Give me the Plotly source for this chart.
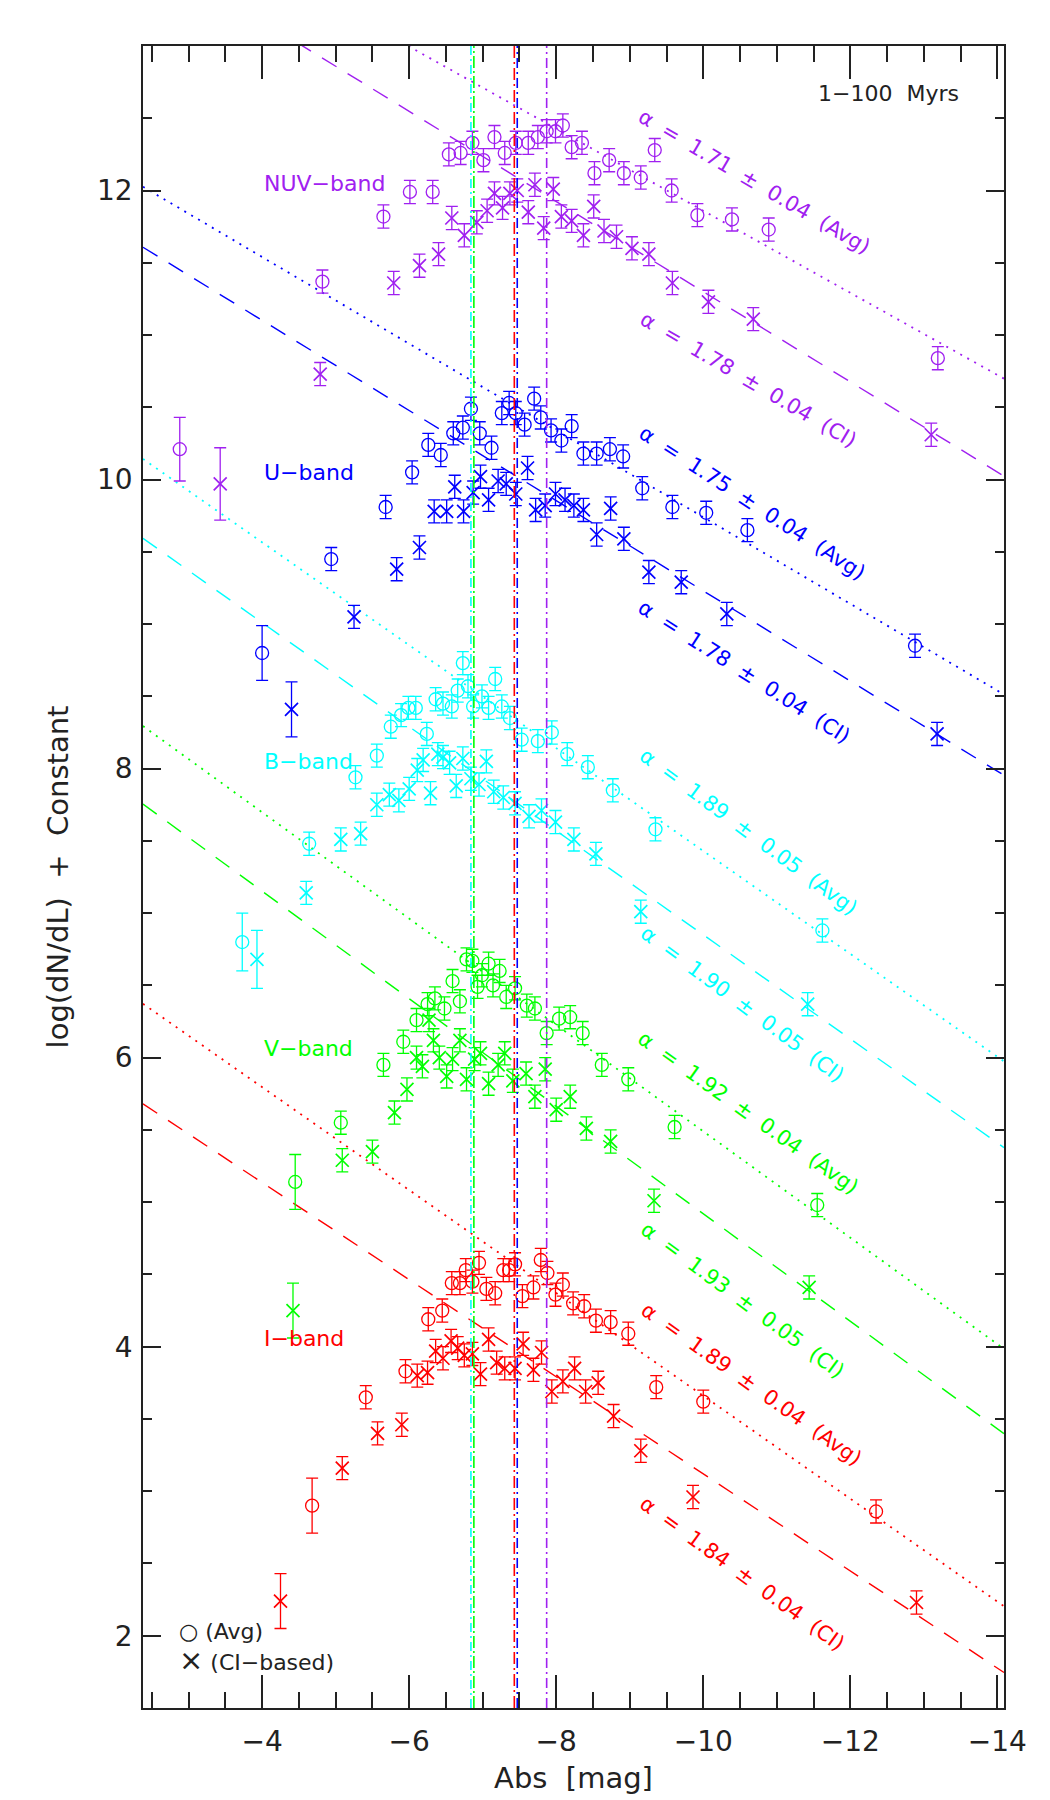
import plotly.graph_objects as go

# ---------------- data ----------------
BANDS = ["NUV", "U", "B", "V", "I"]
BAND_LABELS = ["NUV\u2212band", "U\u2212band", "B\u2212band", "V\u2212band", "I\u2212band"]

NUV_AVG_M = [-2.88, -4.82, -5.65, -6.01, -6.32, -6.54, -6.70, -6.86, -7.01, -7.16, -7.30, -7.45, -7.62, -7.75, -7.87,
             -7.99, -8.09, -8.21, -8.35, -8.52, -8.72, -8.92, -9.15, -9.34, -9.57, -9.92, -10.39, -10.89, -13.19]
NUV_AVG_Y = [10.21, 11.37, 11.82, 11.99, 11.99, 12.25, 12.26, 12.33, 12.21, 12.37, 12.26, 12.33, 12.33, 12.37, 12.41,
             12.41, 12.45, 12.30, 12.33, 12.12, 12.21, 12.12, 12.09, 12.28, 12.00, 11.83, 11.80, 11.73, 10.84]
NUV_AVG_E = [0.22, 0.08, 0.08, 0.08, 0.08, 0.08, 0.08, 0.08, 0.08, 0.08, 0.08, 0.08, 0.08, 0.08, 0.08,
             0.08, 0.08, 0.08, 0.08, 0.08, 0.08, 0.08, 0.08, 0.08, 0.08, 0.08, 0.08, 0.08, 0.08]
NUV_CI_M = [-3.43, -4.79, -5.79, -6.14, -6.40, -6.58, -6.75, -6.92, -7.06, -7.16, -7.27, -7.37, -7.47, -7.62, -7.71,
            -7.83, -7.96, -8.07, -8.21, -8.37, -8.51, -8.65, -8.82, -9.03, -9.26, -9.58, -10.07, -10.68, -13.10]
NUV_CI_Y = [9.97, 10.73, 11.36, 11.48, 11.56, 11.81, 11.69, 11.78, 11.86, 11.98, 11.88, 11.98, 12.00, 11.85, 12.04,
            11.74, 12.01, 11.82, 11.79, 11.69, 11.89, 11.72, 11.68, 11.60, 11.56, 11.36, 11.23, 11.11, 10.31]
NUV_CI_E = [0.25, 0.08, 0.08, 0.08, 0.08, 0.08, 0.08, 0.08, 0.08, 0.08, 0.08, 0.08, 0.08, 0.08, 0.08,
            0.08, 0.08, 0.08, 0.08, 0.08, 0.08, 0.08, 0.08, 0.08, 0.08, 0.08, 0.08, 0.08, 0.08]

U_AVG_M = [-4.00, -4.94, -5.68, -6.04, -6.26, -6.43, -6.60, -6.73, -6.84, -6.96, -7.12, -7.26, -7.36, -7.45, -7.57,
           -7.70, -7.79, -7.93, -8.07, -8.21, -8.37, -8.55, -8.73, -8.91, -9.17, -9.58, -10.04, -10.60, -12.88]
U_AVG_Y = [8.80, 9.45, 9.81, 10.05, 10.24, 10.17, 10.32, 10.36, 10.49, 10.32, 10.22, 10.46, 10.53, 10.46, 10.38,
           10.56, 10.43, 10.34, 10.27, 10.37, 10.18, 10.18, 10.21, 10.16, 9.94, 9.81, 9.77, 9.65, 8.85]
U_AVG_E = [0.19, 0.08, 0.08, 0.08, 0.08, 0.08, 0.08, 0.08, 0.08, 0.08, 0.08, 0.08, 0.08, 0.08, 0.08,
           0.08, 0.08, 0.08, 0.08, 0.08, 0.08, 0.08, 0.08, 0.08, 0.08, 0.08, 0.08, 0.08, 0.08]
U_CI_M = [-4.40, -5.25, -5.83, -6.14, -6.34, -6.51, -6.62, -6.74, -6.87, -6.97, -7.08, -7.21, -7.32, -7.45,
          -7.61, -7.72, -7.85, -7.99, -8.12, -8.24, -8.37, -8.55, -8.74, -8.92, -9.26, -9.70, -10.32, -13.18]
U_CI_Y = [8.41, 9.05, 9.38, 9.53, 9.78, 9.78, 9.95, 9.78, 9.91, 10.02, 9.86, 9.99, 9.97, 9.90,
          10.08, 9.79, 9.82, 9.90, 9.86, 9.82, 9.79, 9.62, 9.80, 9.59, 9.36, 9.29, 9.07, 8.24]
U_CI_E = [0.19, 0.08, 0.08, 0.08, 0.08, 0.08, 0.08, 0.08, 0.08, 0.08, 0.08, 0.08, 0.08, 0.08,
          0.08, 0.08, 0.08, 0.08, 0.08, 0.08, 0.08, 0.08, 0.08, 0.08, 0.08, 0.08, 0.08, 0.08]

B_AVG_M = [-3.73, -4.64, -5.27, -5.56, -5.75, -5.89, -5.99, -6.09, -6.24, -6.36, -6.46, -6.58, -6.66, -6.73, -6.80,
           -6.87, -6.99, -7.08, -7.17, -7.26, -7.37, -7.53, -7.75, -7.94, -8.15, -8.43, -8.77, -9.35, -11.62]
B_AVG_Y = [6.80, 7.48, 7.94, 8.09, 8.29, 8.37, 8.42, 8.42, 8.24, 8.48, 8.45, 8.43, 8.54, 8.73, 8.57,
           8.43, 8.50, 8.42, 8.62, 8.43, 8.35, 8.20, 8.19, 8.25, 8.10, 8.01, 7.85, 7.58, 6.88]
B_AVG_E = [0.20, 0.08, 0.08, 0.08, 0.08, 0.08, 0.08, 0.08, 0.08, 0.08, 0.08, 0.08, 0.08, 0.08, 0.08,
           0.08, 0.08, 0.08, 0.08, 0.08, 0.08, 0.08, 0.08, 0.08, 0.08, 0.08, 0.08, 0.08, 0.08]
B_CI_M = [-3.93, -4.60, -5.07, -5.34, -5.56, -5.73, -5.86, -6.00, -6.11, -6.19, -6.29, -6.39, -6.46, -6.55, -6.64,
          -6.73, -6.84, -6.95, -7.05, -7.15, -7.28, -7.44, -7.63, -7.80, -7.99, -8.24, -8.54, -9.15, -11.42]
B_CI_Y = [6.68, 7.14, 7.51, 7.55, 7.75, 7.82, 7.78, 7.86, 7.99, 8.06, 7.83, 8.10, 8.08, 8.04, 7.88,
          8.07, 7.93, 7.89, 8.05, 7.84, 7.80, 7.76, 7.67, 7.71, 7.63, 7.51, 7.41, 7.01, 6.37]
B_CI_E = [0.20, 0.08, 0.08, 0.08, 0.08, 0.08, 0.08, 0.08, 0.08, 0.08, 0.08, 0.08, 0.08, 0.08, 0.08,
          0.08, 0.08, 0.08, 0.08, 0.08, 0.08, 0.08, 0.08, 0.08, 0.08, 0.08, 0.08, 0.08, 0.08]

V_AVG_M = [-4.45, -5.07, -5.65, -5.92, -6.10, -6.25, -6.35, -6.48, -6.59, -6.69, -6.78, -6.86, -6.93, -6.99, -7.08,
           -7.14, -7.23, -7.32, -7.44, -7.60, -7.71, -7.87, -8.04, -8.19, -8.36, -8.62, -8.98, -9.61, -11.55]
V_AVG_Y = [5.14, 5.55, 5.95, 6.11, 6.26, 6.37, 6.41, 6.34, 6.53, 6.39, 6.68, 6.67, 6.49, 6.57, 6.65,
           6.50, 6.60, 6.42, 6.48, 6.36, 6.34, 6.17, 6.27, 6.28, 6.17, 5.95, 5.85, 5.52, 4.98]
V_AVG_E = [0.19, 0.08, 0.08, 0.08, 0.08, 0.08, 0.08, 0.08, 0.08, 0.08, 0.08, 0.08, 0.08, 0.08, 0.08,
           0.08, 0.08, 0.08, 0.08, 0.08, 0.08, 0.08, 0.08, 0.08, 0.08, 0.08, 0.08, 0.08, 0.08]
V_CI_M = [-4.42, -5.09, -5.50, -5.80, -5.97, -6.10, -6.18, -6.27, -6.33, -6.41, -6.51, -6.59, -6.69, -6.78, -6.89,
          -6.97, -7.08, -7.21, -7.30, -7.41, -7.59, -7.71, -7.85, -8.00, -8.19, -8.41, -8.74, -9.33, -11.44]
V_CI_Y = [4.25, 5.29, 5.35, 5.62, 5.78, 6.00, 5.94, 6.26, 6.12, 6.00, 5.87, 5.99, 6.12, 5.85, 5.99,
          6.03, 5.82, 5.95, 6.03, 5.84, 5.89, 5.73, 5.92, 5.64, 5.73, 5.51, 5.42, 5.01, 4.41]
V_CI_E = [0.19, 0.08, 0.08, 0.08, 0.08, 0.08, 0.08, 0.08, 0.08, 0.08, 0.08, 0.08, 0.08, 0.08, 0.08,
          0.08, 0.08, 0.08, 0.08, 0.08, 0.08, 0.08, 0.08, 0.08, 0.08, 0.08, 0.08, 0.08, 0.08]

I_AVG_M = [-4.68, -5.41, -5.95, -6.26, -6.45, -6.58, -6.69, -6.77, -6.86, -6.95, -7.05, -7.17, -7.28, -7.36, -7.44,
           -7.54, -7.69, -7.79, -7.88, -7.99, -8.09, -8.23, -8.38, -8.54, -8.74, -8.98, -9.36, -10.00, -12.35]
I_AVG_Y = [2.90, 3.65, 3.83, 4.19, 4.25, 4.44, 4.44, 4.53, 4.45, 4.58, 4.40, 4.37, 4.53, 4.53, 4.57,
           4.35, 4.41, 4.60, 4.51, 4.36, 4.43, 4.30, 4.28, 4.18, 4.17, 4.09, 3.72, 3.62, 2.86]
I_AVG_E = [0.19, 0.08, 0.08, 0.08, 0.08, 0.08, 0.08, 0.08, 0.08, 0.08, 0.08, 0.08, 0.08, 0.08, 0.08,
           0.08, 0.08, 0.08, 0.08, 0.08, 0.08, 0.08, 0.08, 0.08, 0.08, 0.08, 0.08, 0.08, 0.08]
I_CI_M = [-4.25, -5.09, -5.57, -5.90, -6.11, -6.25, -6.36, -6.46, -6.57, -6.66, -6.75, -6.86, -6.97, -7.08, -7.19,
          -7.30, -7.44, -7.55, -7.69, -7.80, -7.94, -8.09, -8.25, -8.40, -8.57, -8.78, -9.15, -9.86, -12.90]
I_CI_Y = [2.24, 3.16, 3.40, 3.46, 3.80, 3.82, 3.97, 3.92, 4.04, 3.99, 3.94, 3.95, 3.81, 4.05, 3.89,
          3.85, 3.85, 4.02, 3.84, 3.96, 3.69, 3.76, 3.85, 3.69, 3.75, 3.52, 3.28, 2.96, 2.23]
I_CI_E = [0.19, 0.08, 0.08, 0.08, 0.08, 0.08, 0.08, 0.08, 0.08, 0.08, 0.08, 0.08, 0.08, 0.08, 0.08,
          0.08, 0.08, 0.08, 0.08, 0.08, 0.08, 0.08, 0.08, 0.08, 0.08, 0.08, 0.08, 0.08, 0.08]

# power-law fits: slope alpha, and fitted log(dN/dL) value at M = -10
ALPHA_AVG = [1.71, 1.75, 1.89, 1.92, 1.89]
ALPHA_AVG_ERR = [0.04, 0.04, 0.05, 0.04, 0.04]
ALPHA_CI = [1.78, 1.78, 1.90, 1.93, 1.84]
ALPHA_CI_ERR = [0.04, 0.04, 0.05, 0.05, 0.04]
FIT_AVG_AT_M10 = [11.86, 9.74, 7.43, 5.49, 3.66]
FIT_CI_AT_M10 = [11.30, 9.23, 6.85, 4.92, 3.12]

# turnover magnitudes (vertical lines)
PEAK_M = [-7.87, -7.47, -6.84, -6.88, -7.43]

# ---------------- styling / layout ----------------
COLORS = ["#A020F0", "#0000FF", "#00FFFF", "#00FF00", "#FF0000"]
X_RANGE = [-2.38, -14.09]
Y_RANGE = [1.5, 13.0]
FONT = "DejaVu Sans"
INK = "#222222"

# label placement (layout, not data)
BAND_LABEL_POS = [(-4.0, 12.05), (-4.0, 10.05), (-4.0, 8.05), (-4.0, 6.06), (-4.0, 4.06)]
AVG_TEXT_POS = [(-10.70, 12.06, 30.4), (-10.67, 9.84, 33.0), (-10.62, 7.56, 36.5), (-10.62, 5.62, 35.4), (-10.65, 3.74, 35.4)]
CI_TEXT_POS = [(-10.62, 10.69, 30.5), (-10.56, 8.67, 32.6), (-10.53, 6.37, 36.5), (-10.53, 4.32, 36.5), (-10.54, 2.43, 36.0)]

series = {
    "NUV": (NUV_AVG_M, NUV_AVG_Y, NUV_AVG_E, NUV_CI_M, NUV_CI_Y, NUV_CI_E),
    "U": (U_AVG_M, U_AVG_Y, U_AVG_E, U_CI_M, U_CI_Y, U_CI_E),
    "B": (B_AVG_M, B_AVG_Y, B_AVG_E, B_CI_M, B_CI_Y, B_CI_E),
    "V": (V_AVG_M, V_AVG_Y, V_AVG_E, V_CI_M, V_CI_Y, V_CI_E),
    "I": (I_AVG_M, I_AVG_Y, I_AVG_E, I_CI_M, I_CI_Y, I_CI_E),
}

fig = go.Figure()

# fit lines
for i, band in enumerate(BANDS):
    col = COLORS[i]
    for y10, alpha, dash, w in [(FIT_AVG_AT_M10[i], ALPHA_AVG[i], "2px,6px", 1.8),
                                (FIT_CI_AT_M10[i], ALPHA_CI[i], "17px,13px", 1.4)]:
        xs = list(X_RANGE)
        ys = [y10 + 0.4 * (alpha - 1.0) * (x + 10.0) for x in xs]
        fig.add_trace(go.Scatter(x=xs, y=ys, mode="lines", line=dict(color=col, width=w, dash=dash),
                                 hoverinfo="skip", showlegend=False))

# vertical turnover lines
VDASH = ["10px,4px,2px,4px", "10px,4px,2px,4px", "9px,4px,2px,4px", "12px,3px,2px,3px", "12px,4px,2px,4px"]
for i, band in enumerate(BANDS):
    fig.add_vline(x=PEAK_M[i], line=dict(color=COLORS[i], width=1.6, dash=VDASH[i]))

# data points
for i, band in enumerate(BANDS):
    col = COLORS[i]
    am, ay, ae, cm, cy, ce = series[band]
    fig.add_trace(go.Scatter(
        x=am, y=ay, mode="markers", name=band + " (Avg)",
        marker=dict(symbol="circle-open", size=13, color=col, line=dict(width=1.3, color=col)),
        error_y=dict(type="data", array=ae, color=col, thickness=1.3, width=6),
        showlegend=False))
    fig.add_trace(go.Scatter(
        x=cm, y=cy, mode="markers", name=band + " (CI-based)",
        marker=dict(symbol="x-thin-open", size=13, color=col, line=dict(width=1.7, color=col)),
        error_y=dict(type="data", array=ce, color=col, thickness=1.3, width=6),
        showlegend=False))

annotations = []
for i, band in enumerate(BANDS):
    col = COLORS[i]
    bx, by = BAND_LABEL_POS[i]
    annotations.append(dict(x=bx, y=by, xref="x", yref="y", text=BAND_LABELS[i], showarrow=False,
                            xanchor="left", yanchor="middle", font=dict(family=FONT, size=22, color=col)))
    ax_, ay_, aa = AVG_TEXT_POS[i]
    annotations.append(dict(x=ax_, y=ay_, xref="x", yref="y",
                            text="\u03b1  =  %.2f  \u00b1  %.2f  (Avg)" % (ALPHA_AVG[i], ALPHA_AVG_ERR[i]),
                            showarrow=False, textangle=aa, xanchor="center", yanchor="middle",
                            font=dict(family=FONT, size=21, color=col)))
    cx_, cy_, ca = CI_TEXT_POS[i]
    annotations.append(dict(x=cx_, y=cy_, xref="x", yref="y",
                            text="\u03b1  =  %.2f  \u00b1  %.2f  (CI)" % (ALPHA_CI[i], ALPHA_CI_ERR[i]),
                            showarrow=False, textangle=ca, xanchor="center", yanchor="middle",
                            font=dict(family=FONT, size=21, color=col)))

annotations.append(dict(x=-12.52, y=12.67, xref="x", yref="y", text="1\u2212100  Myrs", showarrow=False,
                        xanchor="center", yanchor="middle", font=dict(family=FONT, size=22, color=INK)))
annotations.append(dict(x=-2.84, y=2.03, xref="x", yref="y", text="\u25cb (Avg)", showarrow=False,
                        xanchor="left", yanchor="middle", font=dict(family=FONT, size=22, color=INK)))
annotations.append(dict(x=-2.84, y=1.83, xref="x", yref="y",
                        text="<span style='font-size:29px'>\u00d7</span> (CI\u2212based)", showarrow=False,
                        xanchor="left", yanchor="middle", font=dict(family=FONT, size=22, color=INK)))

axis_common = dict(showline=True, linecolor=INK, linewidth=1.6, mirror="allticks", showgrid=False,
                   zeroline=False, ticks="inside", tickcolor=INK, tickwidth=1.5,
                   tickfont=dict(family=FONT, size=28, color=INK))

fig.update_xaxes(range=X_RANGE, tickmode="linear", tick0=0, dtick=2, ticklen=33,
                 minor=dict(dtick=0.5, ticks="inside", ticklen=16, tickwidth=1.5, tickcolor=INK),
                 ticklabelstandoff=8,
                 title=dict(text="Abs  [mag]", font=dict(family=FONT, size=29, color=INK), standoff=10),
                 **axis_common)
fig.update_yaxes(range=Y_RANGE, tickmode="linear", tick0=0, dtick=2, ticklen=18,
                 minor=dict(dtick=0.5, ticks="inside", ticklen=9, tickwidth=1.5, tickcolor=INK),
                 ticklabelstandoff=3,
                 title=dict(text="log(dN/dL)  +  Constant", font=dict(family=FONT, size=29, color=INK), standoff=20),
                 **axis_common)

fig.update_layout(width=1050, height=1800, margin=dict(l=143, r=46, t=46, b=92, autoexpand=False),
                  plot_bgcolor="white", paper_bgcolor="white", showlegend=False,
                  annotations=annotations, font=dict(family=FONT, color=INK))

fig.write_html("out.html")
